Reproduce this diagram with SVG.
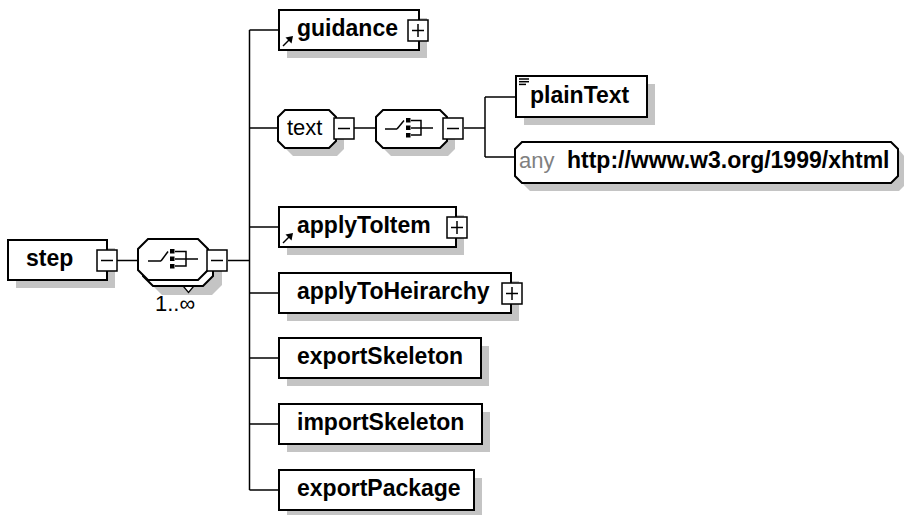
<svg xmlns="http://www.w3.org/2000/svg" width="904" height="515" viewBox="0 0 904 515">
<style>
.b{font-family:"Liberation Sans",Arial,sans-serif;font-weight:bold;font-size:23px;fill:#000}
.r{font-family:"Liberation Sans",Arial,sans-serif;font-size:22px;fill:#000}
.g{fill:#808080}
.box{fill:#fff;stroke:#000;stroke-width:2}
.sh{fill:#c4c4c4;stroke:none}
.pm{fill:#fff;stroke:#000;stroke-width:1.5}
.ln{fill:none;stroke:#000;stroke-width:1.5}
.icon{fill:#000;stroke:none}
</style>
<defs>
<g id="minus"><rect class="pm" x="0" y="0" width="20" height="21"/><line class="ln" x1="4" y1="10.5" x2="16" y2="10.5"/></g>
<g id="plus"><rect class="pm" x="0" y="0" width="20" height="21"/><line class="ln" x1="4" y1="10.5" x2="16" y2="10.5"/><line class="ln" x1="10" y1="4" x2="10" y2="17"/></g>
<g id="refarrow"><line class="ln" x1="283" y1="46" x2="289" y2="40"/><polygon class="icon" points="293,36 285.5,37.5 291.5,43.5"/></g>
</defs>

<g id="connectors">
<line class="ln" x1="117" y1="260.5" x2="138" y2="260.5"/>
<line class="ln" x1="228" y1="260.5" x2="249.5" y2="260.5"/>
<line class="ln" x1="249.5" y1="30" x2="249.5" y2="490"/>
<line class="ln" x1="249.5" y1="30" x2="279" y2="30"/>
<line class="ln" x1="249.5" y1="128" x2="278" y2="128"/>
<line class="ln" x1="249.5" y1="227" x2="279" y2="227"/>
<line class="ln" x1="249.5" y1="293" x2="279" y2="293"/>
<line class="ln" x1="249.5" y1="358" x2="279" y2="358"/>
<line class="ln" x1="249.5" y1="424" x2="279" y2="424"/>
<line class="ln" x1="249.5" y1="490" x2="279" y2="490"/>
<line class="ln" x1="354" y1="128" x2="376" y2="128"/>
<line class="ln" x1="464" y1="128" x2="485" y2="128"/>
<line class="ln" x1="485" y1="97" x2="485" y2="157"/>
<line class="ln" x1="485" y1="97" x2="516" y2="97"/>
<line class="ln" x1="485" y1="157" x2="515" y2="157"/>
</g>

<g id="step">
<rect class="sh" x="16" y="248" width="99" height="40"/>
<rect class="box" x="8" y="240" width="99" height="40"/>
<text class="b" x="26" y="266">step</text>
<use href="#minus" x="97" y="250"/>
</g>

<g id="sequence-main">
<polygon class="sh" points="162,254 212,254 222,264 222,285 212,295 162,295 152,285 152,264"/>
<polygon class="box" points="153,245 203,245 213,255 213,276 203,286 153,286 143,276 143,255"/>
<polygon class="box" points="148,239 198,239 208,249 208,270 198,280 148,280 138,270 138,249"/>
<polygon fill="#fff" stroke="#000" stroke-width="1.2" points="183.5,286.5 193.5,286.5 188.5,292.5"/>
<line class="ln" x1="148" y1="261" x2="161" y2="261"/>
<line class="ln" x1="161" y1="261" x2="168" y2="251.5"/>
<rect class="icon" x="170" y="249" width="4.5" height="4.5"/>
<rect class="icon" x="170" y="256.5" width="4.5" height="4.5"/>
<rect class="icon" x="170" y="264" width="4.5" height="4.5"/>
<polyline class="ln" points="175,251.5 186,251.5 186,266 175,266"/>
<line class="ln" x1="175" y1="259" x2="198" y2="259"/>
<use href="#minus" x="207" y="250"/>
<text class="r" x="155" y="311">1..∞</text>
</g>

<g id="guidance">
<rect class="sh" x="287" y="18" width="140" height="40"/>
<rect class="box" x="279" y="10" width="140" height="40"/>
<use href="#refarrow"/>
<text class="b" x="297" y="36">guidance</text>
<use href="#plus" x="408" y="20"/>
</g>

<g id="text">
<polygon class="sh" points="293,118 337,118 344,125 344,149 337,156 293,156 286,149 286,125"/>
<polygon class="box" points="285,110 329,110 336,117 336,141 329,148 285,148 278,141 278,117"/>
<text class="r" x="287" y="135">text</text>
<use href="#minus" x="334" y="118"/>
</g>

<g id="sequence-text">
<polygon class="sh" points="391,118 448,118 455,125 455,149 448,156 391,156 384,149 384,125"/>
<polygon class="box" points="383,110 440,110 447,117 447,141 440,148 383,148 376,141 376,117"/>
<line class="ln" x1="385" y1="129" x2="397" y2="129"/>
<line class="ln" x1="397" y1="129" x2="404" y2="120.5"/>
<rect class="icon" x="406" y="118" width="4.5" height="4.5"/>
<rect class="icon" x="406" y="125.5" width="4.5" height="4.5"/>
<rect class="icon" x="406" y="133" width="4.5" height="4.5"/>
<polyline class="ln" points="411,120.5 421,120.5 421,135 411,135"/>
<line class="ln" x1="411" y1="128" x2="433" y2="128"/>
<use href="#minus" x="443" y="118"/>
</g>

<g id="plainText">
<rect class="sh" x="524" y="84" width="131" height="41"/>
<rect class="box" x="516" y="76" width="131" height="41"/>
<line class="ln" x1="519" y1="79" x2="529" y2="79"/>
<line class="ln" x1="519" y1="81.7" x2="529" y2="81.7"/>
<line class="ln" x1="519" y1="84.4" x2="526" y2="84.4"/>
<text class="b" x="530" y="103">plainText</text>
</g>

<g id="any">
<polygon class="sh" points="530,150 899,150 906,158 906,184 899,191 530,191 523,184 523,158"/>
<polygon class="box" points="522,142 891,142 898,149 898,176 891,183 522,183 515,176 515,149"/>
<text class="r g" x="519" y="168">any</text>
<text class="b" x="567" y="168">http://www.w3.org/1999/xhtml</text>
</g>

<g id="applyToItem">
<rect class="sh" x="287" y="215" width="177" height="40"/>
<rect class="box" x="279" y="207" width="177" height="40"/>
<use href="#refarrow" y="197"/>
<text class="b" x="297" y="233">applyToItem</text>
<use href="#plus" x="447" y="217"/>
</g>

<g id="applyToHeirarchy">
<rect class="sh" x="287" y="281" width="232" height="40"/>
<rect class="box" x="279" y="273" width="232" height="40"/>
<text class="b" x="297" y="299">applyToHeirarchy</text>
<use href="#plus" x="502" y="283"/>
</g>

<g id="exportSkeleton">
<rect class="sh" x="287" y="346" width="202" height="40"/>
<rect class="box" x="279" y="338" width="202" height="40"/>
<text class="b" x="297" y="364">exportSkeleton</text>
</g>

<g id="importSkeleton">
<rect class="sh" x="287" y="412" width="203" height="40"/>
<rect class="box" x="279" y="404" width="203" height="40"/>
<text class="b" x="297" y="430">importSkeleton</text>
</g>

<g id="exportPackage">
<rect class="sh" x="287" y="478" width="195" height="40"/>
<rect class="box" x="279" y="470" width="195" height="40"/>
<text class="b" x="297" y="496">exportPackage</text>
</g>
</svg>
